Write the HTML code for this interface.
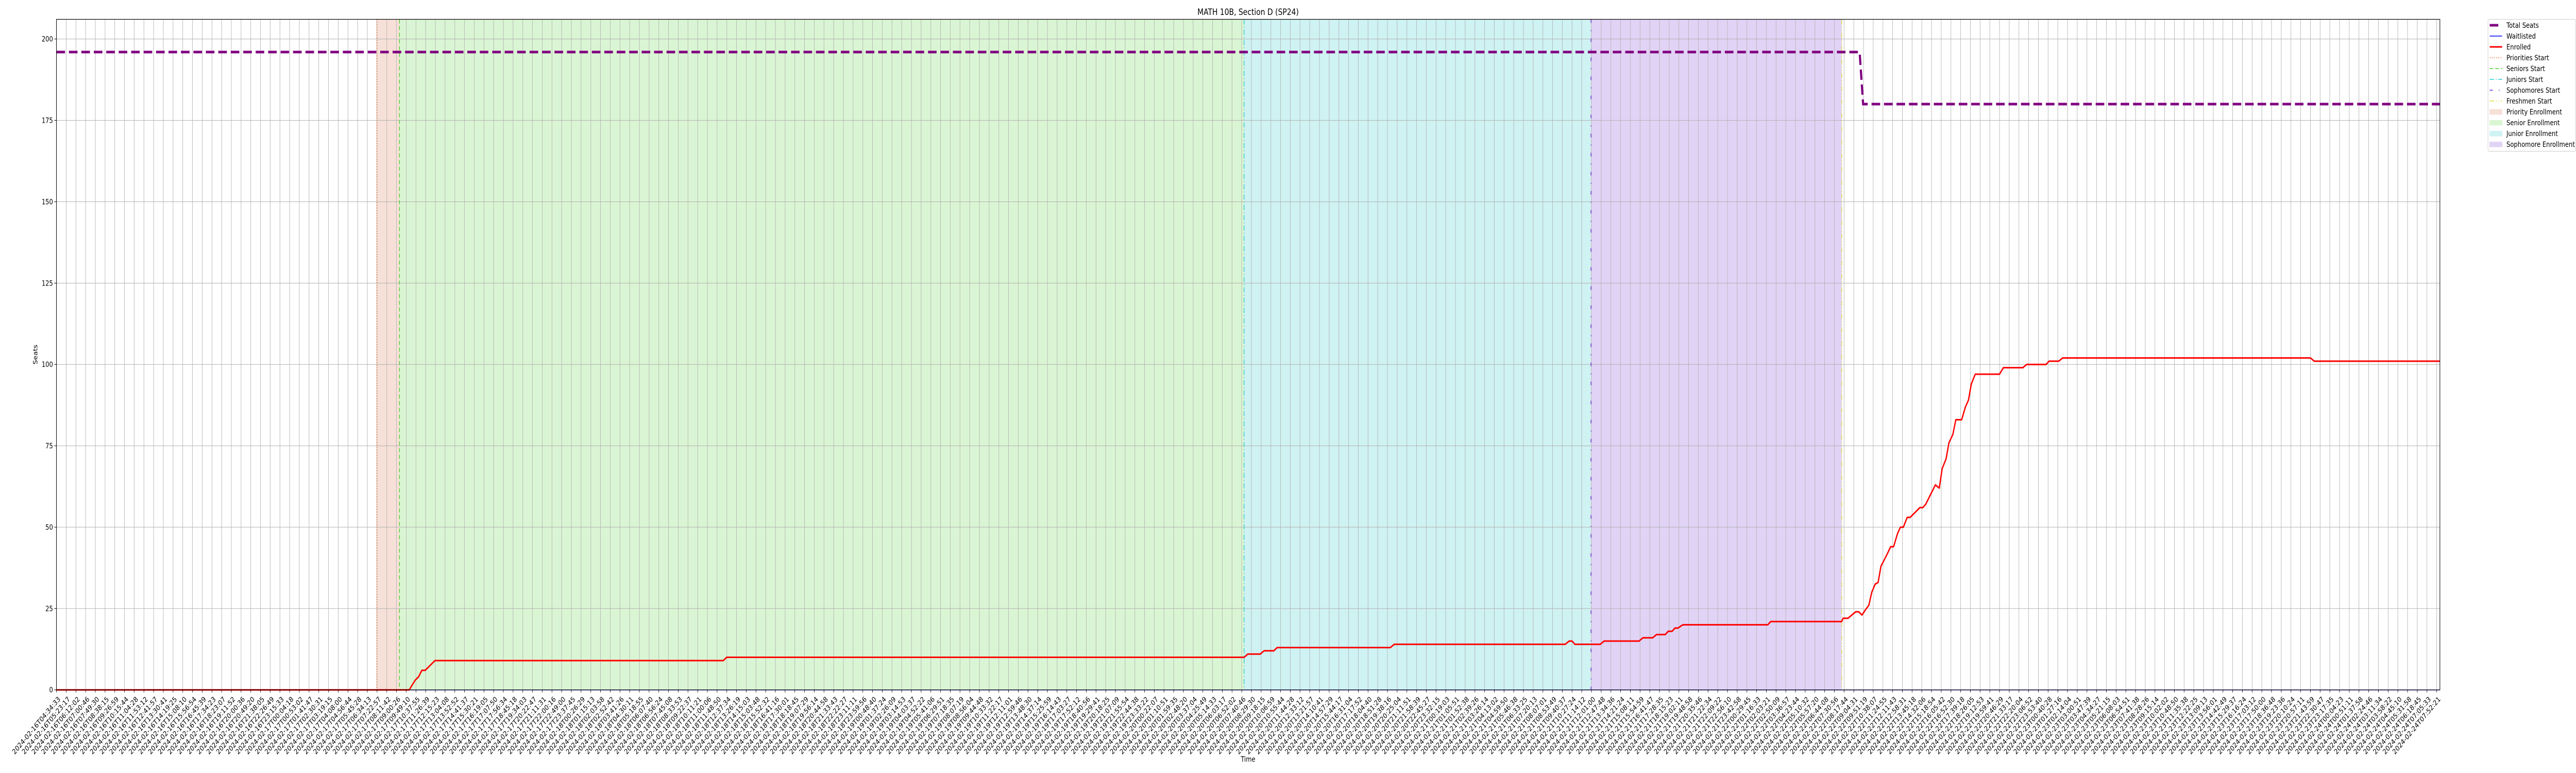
<!DOCTYPE html>
<html><head><meta charset="utf-8"><title>MATH 10B, Section D (SP24)</title>
<style>
html,body{margin:0;padding:0;background:#fff;overflow:hidden;width:100%;height:100%;}
svg{display:block;width:100vw;height:100vh;font-family:"DejaVu Sans","Liberation Sans",sans-serif;}
</style></head>
<body>
<svg id="chart" viewBox="0 0 6000 1500" preserveAspectRatio="none" xmlns="http://www.w3.org/2000/svg">
<rect width="6000" height="1500" fill="#fff"/>
<g id="regions"></g>
<g id="grid"></g>
<g id="vlines"></g>
<g id="series"></g>
<g id="axes"></g>
<text x="2907" y="29" font-size="16.7" text-anchor="middle">MATH 10B, Section D (SP24)</text>
<text x="2907" y="1478" font-size="13.9" text-anchor="middle">Time</text>
<text transform="translate(87,688) rotate(-90)" font-size="13.9" text-anchor="middle">Seats</text>
<g id="legend"></g>
</svg>
<script>
// ---- data ----
const labelAnchorIdx = [0, 130, 245];
const labelAnchorTime = ["2024-02-16T04:34:33", "2024-02-20T14:10:41", "2024-02-24T07:52:21"];
const tickCount = 246;
const xMaxIdx = 245.33;
const yTicks = [0, 25, 50, 75, 100, 125, 150, 175, 200];
const seatsIdx = [0, 185.6, 185.96, 245.33];
const seatsVal = [196, 196, 180, 180];
const waitIdx = [0, 245.33];
const waitVal = [0, 0];
const enrolledIdx = [0,36.32,36.59,36.93,37.27,37.61,37.95,38.96,68.64,68.98,122.25,122.62,123.9,124.3,125.3,125.65,137.3,137.7,155.3,155.7,156.0,156.3,158.9,159.3,162.9,163.3,164.3,164.7,165.6,165.9,166.3,166.6,166.9,167.4,176.15,176.45,183.76,183.9,184.4,185.2,185.5,185.85,186.2,186.55,186.85,187.2,187.5,187.8,188.4,188.8,189.1,189.5,189.8,190.1,190.5,190.8,191.8,192.1,192.4,192.9,193.4,193.8,194.1,194.5,194.8,195.2,195.5,196.1,196.5,196.8,197.1,197.5,200.0,200.4,202.4,202.8,204.8,205.1,206.1,206.5,232.0,232.4,245.33];
const enrolledVal = [0,0,1.4,3,4,6,6,9,9,10,10,11,11,12,12,13,13,14,14,15,15,14,14,15,15,16,16,17,17,18,18,19,19,20,20,21,21,22,22,24,24,23,24.6,26,30,32.5,33,38,41.5,44,44,48,50,50,53,53,56,56,57,60,63,62,68,71,76,78.5,83,83,87,89,94,97,97,99,99,100,100,101,101,102,102,101,101];
const phaseNames = ["Priorities Start","Seniors Start","Juniors Start","Sophomores Start","Freshmen Start"];
const phaseIdx = [32.96, 35.31, 122.25, 157.95, 183.76];
const regionNames = ["Priority Enrollment","Senior Enrollment","Junior Enrollment","Sophomore Enrollment"];

// ---- styles ----
const phaseColors = ["#f07030","#44cc22","#22cccc","#6a22d8","#dddd33"];
const phaseDash = ["2,3","8,5","10,4,2,4","7,14,2,14","10,4,2,4,2,4"];
const regionColors = ["#f6e0d7","#daf5d3","#cff2f3","#e1d3f5"];

const NS = "http://www.w3.org/2000/svg";
const X0 = 131.5, X1 = 5683, Y0 = 1338.7, YT = 37.5;
const x = i => X0 + (i / xMaxIdx) * (X1 - X0);
const y = v => Y0 - v * 6.315;
function mk(tag, attrs, parent) {
  const e = document.createElementNS(NS, tag);
  for (const k in attrs) e.setAttribute(k, attrs[k]);
  parent.appendChild(e); return e;
}
const gReg = document.getElementById('regions');
const gGrid = document.getElementById('grid');
const gV = document.getElementById('vlines');
const gS = document.getElementById('series');
const gA = document.getElementById('axes');
const gL = document.getElementById('legend');

for (let r = 0; r < 4; r++) {
  const e = mk('rect', {x: x(phaseIdx[r]), y: YT, width: x(phaseIdx[r+1]) - x(phaseIdx[r]), height: Y0 - YT, fill: regionColors[r]}, gReg);
  
  
}
for (let i = 0; i < tickCount; i++) {
  const e = mk('line', {x1: x(i), x2: x(i), y1: YT, y2: Y0, stroke: '#b0b0b0', 'stroke-width': 1}, gGrid);
  
  
}
yTicks.forEach(v => {
  const e = mk('line', {x1: X0, x2: X1, y1: y(v), y2: y(v), stroke: '#b0b0b0', 'stroke-width': 1}, gGrid);
  
  
});
phaseIdx.forEach((p, k) => {
  const e = mk('line', {x1: x(p), x2: x(p), y1: YT, y2: Y0, stroke: phaseColors[k], 'stroke-width': 1.5, 'stroke-dasharray': phaseDash[k]}, gV);
  
  
});
function pathOf(ix, vs) { return ix.map((i, k) => (k ? 'L' : 'M') + x(i).toFixed(2) + ',' + y(vs[k]).toFixed(2)).join(''); }
let e;
e = mk('path', {d: pathOf(waitIdx, waitVal), fill: 'none', stroke: '#0000ff', 'stroke-width': 1.5}, gS);


e = mk('path', {d: pathOf(enrolledIdx, enrolledVal), fill: 'none', stroke: '#ff0000', 'stroke-width': 3, 'stroke-linejoin': 'round'}, gS);


e = mk('path', {d: pathOf(seatsIdx, seatsVal), fill: 'none', stroke: '#800080', 'stroke-width': 5, 'stroke-dasharray': '20,9'}, gS);



e = mk('rect', {x: X0, y: YT, width: X1 - X0, height: Y0 - YT, fill: 'none', stroke: '#000', 'stroke-width': 1.2}, gA);


yTicks.forEach(v => {
  mk('line', {x1: X0 - 5, x2: X0, y1: y(v), y2: y(v), stroke: '#000', 'stroke-width': 1}, gA);
  const t = mk('text', {x: X0 - 8, y: y(v) + 5, 'font-size': 13.9, 'text-anchor': 'end'}, gA);
  t.textContent = v;
  
  
});
const anchorMs = labelAnchorTime.map(s => Date.parse(s + 'Z'));
function labelFor(i) {
  let k = 0; while (k < labelAnchorIdx.length - 2 && i > labelAnchorIdx[k+1]) k++;
  const f = (i - labelAnchorIdx[k]) / (labelAnchorIdx[k+1] - labelAnchorIdx[k]);
  const ms = anchorMs[k] + f * (anchorMs[k+1] - anchorMs[k]);
  return new Date(Math.round(ms / 1000) * 1000).toISOString().slice(0, 19);
}
for (let i = 0; i < tickCount; i++) {
  mk('line', {x1: x(i), x2: x(i), y1: Y0, y2: Y0 + 5, stroke: '#000', 'stroke-width': 1}, gA);
  const t = mk('text', {transform: 'translate(' + (x(i) + 3).toFixed(2) + ',' + (Y0 + 12) + ') rotate(-45)', 'font-size': 13.9, 'text-anchor': 'end', dy: '0.7em'}, gA);
  t.textContent = labelFor(i);
  
  
}

e = mk('rect', {x: 5795, y: 37.5, width: 204, height: 256, rx: 3, fill: '#fff', stroke: '#cccccc', 'stroke-width': 1}, gL);


const legendNames = ["Total Seats","Waitlisted","Enrolled"].concat(phaseNames, regionNames);
legendNames.forEach((n, k) => {
  const cy = 49 + k * 21;
  const g = mk('g', {}, gL);
  
  
  if (k === 0) mk('line', {x1: 5799, x2: 5819, y1: cy, y2: cy, stroke: '#800080', 'stroke-width': 5}, g);
  else if (k === 1) mk('line', {x1: 5799, x2: 5828, y1: cy, y2: cy, stroke: '#0000ff', 'stroke-width': 1.5}, g);
  else if (k === 2) mk('line', {x1: 5799, x2: 5828, y1: cy, y2: cy, stroke: '#ff0000', 'stroke-width': 3}, g);
  else if (k < 8) mk('line', {x1: 5799, x2: 5828, y1: cy, y2: cy, stroke: phaseColors[k-3], 'stroke-width': 1.5, 'stroke-dasharray': phaseDash[k-3]}, g);
  else mk('rect', {x: 5799, y: cy - 4.5, width: 29, height: 9.5, fill: regionColors[k-8], stroke: regionColors[k-8]}, g);
  const t = mk('text', {x: 5838, y: cy + 5, 'font-size': 13.9}, g);
  t.textContent = n;
});
</script>
</body></html>
